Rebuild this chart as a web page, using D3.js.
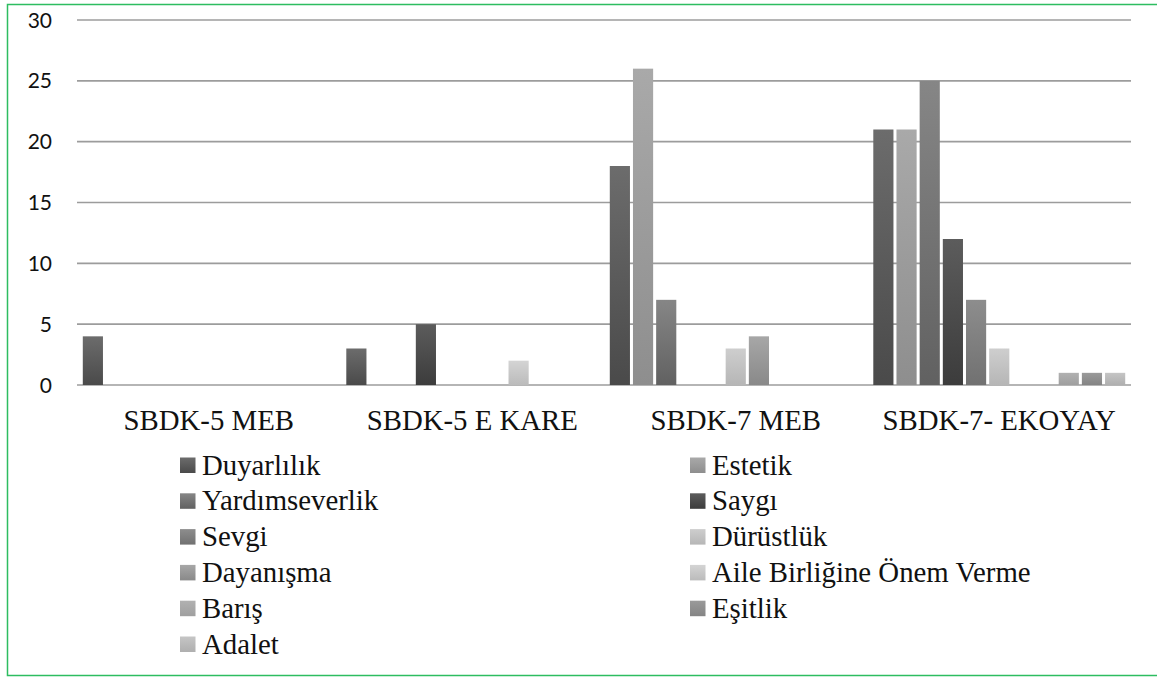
<!DOCTYPE html>
<html>
<head>
<meta charset="utf-8">
<script src="https://cdn.jsdelivr.net/npm/d3@7"></script>
<style>
  body { margin: 0; background: #fff; }
  .ytick { font-family: Lato, "Open Sans", sans-serif; font-size: 21px; fill: #111; }
  .cat { font-family: "Liberation Serif", "Times New Roman", serif; font-size: 28.8px; fill: #111; }
  .leg { font-family: "Liberation Serif", "Times New Roman", serif; font-size: 28.8px; fill: #111; }
</style>
</head>
<body>
<div id="chart"></div>
<script>
var categories = ['SBDK-5 MEB', 'SBDK-5 E KARE', 'SBDK-7 MEB', 'SBDK-7- EKOYAY']
var series = ['Duyarlılık', 'Estetik', 'Yardımseverlik', 'Saygı', 'Sevgi', 'Dürüstlük',
  'Dayanışma', 'Aile Birliğine Önem Verme', 'Barış', 'Eşitlik', 'Adalet']

// values per series, one per category
var duyarlilik = [4, 3, 18, 21]
var estetik = [0, 0, 26, 21]
var yardimseverlik = [0, 0, 7, 25]
var saygi = [0, 5, 0, 12]
var sevgi = [0, 0, 0, 7]
var durustluk = [0, 0, 3, 3]
var dayanisma = [0, 0, 4, 0]
var aile = [0, 2, 0, 0]
var baris = [0, 0, 0, 1]
var esitlik = [0, 0, 0, 1]
var adalet = [0, 0, 0, 1]

var yTicks = [0, 5, 10, 15, 20, 25, 30]

var values = [duyarlilik, estetik, yardimseverlik, saygi, sevgi, durustluk,
  dayanisma, aile, baris, esitlik, adalet]

// gradient top / bottom per series
var shades = [
  ['#6c6c6c', '#4a4a4a'], ['#a9a9a9', '#8e8e8e'], ['#868686', '#616161'],
  ['#5c5c5c', '#3c3c3c'], ['#8d8d8d', '#717171'], ['#cecece', '#b6b6b6'],
  ['#a7a7a7', '#898989'], ['#d4d4d4', '#bbbbbb'], ['#b1b1b1', '#9f9f9f'],
  ['#9a9a9a', '#848484'], ['#c5c5c5', '#afafaf']
]

var W = 1157, H = 678
var svg = d3.select('#chart').append('svg').attr('width', W).attr('height', H)

var defs = svg.append('defs')
shades.forEach(function(s, i){
  var g = defs.append('linearGradient').attr('id', 'g' + i)
    .attr('x1', 0).attr('y1', 0).attr('x2', 0).attr('y2', 1)
  g.append('stop').attr('offset', '0%').attr('stop-color', s[0])
  g.append('stop').attr('offset', '100%').attr('stop-color', s[1])
})

svg.append('rect')
  .attr('x', 7.5).attr('y', 4.5).attr('width', 1160).attr('height', 671)
  .attr('fill', 'none').attr('stroke', '#2dbd60').attr('stroke-width', 1.5)

var plotL = 77, plotR = 1131, plotT = 20, plotB = 385

var x0 = d3.scaleBand().domain(categories).range([plotL, plotR])
var x1 = d3.scaleBand().domain(series).range([0, x0.bandwidth()])
  .paddingInner(0.13).paddingOuter(0.25)
var y = d3.scaleLinear().domain([0, 30]).range([plotB, plotT])

svg.append('g').selectAll('line').data(yTicks).join('line')
  .attr('x1', plotL).attr('x2', plotR)
  .attr('y1', function(d){ return y(d) }).attr('y2', function(d){ return y(d) })
  .attr('stroke', '#9c9c9c').attr('stroke-width', 1.6)

svg.append('g').selectAll('text').data(yTicks).join('text')
  .attr('class', 'ytick')
  .attr('x', 52).attr('y', function(d){ return y(d) })
  .attr('dy', '0.36em').attr('text-anchor', 'end')
  .text(function(d){ return d })

var groups = svg.append('g').selectAll('g').data(categories).join('g')
  .attr('transform', function(d){ return 'translate(' + x0(d) + ',0)' })

groups.selectAll('rect').data(function(c, ci){
  return series.map(function(s, si){ return {s: s, i: si, v: values[si][ci]} })
}).join('rect')
  .attr('x', function(d){ return x1(d.s) })
  .attr('width', x1.bandwidth())
  .attr('y', function(d){ return y(d.v) })
  .attr('height', function(d){ return y(0) - y(d.v) })
  .attr('fill', function(d){ return 'url(#g' + d.i + ')' })

svg.append('g').selectAll('text').data(categories).join('text')
  .attr('class', 'cat')
  .attr('x', function(d){ return x0(d) + x0.bandwidth() / 2 })
  .attr('y', 430).attr('text-anchor', 'middle')
  .text(function(d){ return d })

// legend, two columns, row major
var leg = svg.append('g').selectAll('g').data(series).join('g')
  .attr('transform', function(d, i){
    var col = i % 2, row = Math.floor(i / 2)
    return 'translate(' + (col ? 690 : 180) + ',' + (465 + row * 35.8) + ')'
  })
leg.append('rect').attr('x', 0).attr('y', -7.5).attr('width', 15.5).attr('height', 15.5)
  .attr('fill', function(d, i){ return 'url(#g' + i + ')' })
leg.append('text').attr('class', 'leg').attr('x', 22).attr('dy', '0.33em')
  .text(function(d){ return d })
</script>
</body>
</html>
